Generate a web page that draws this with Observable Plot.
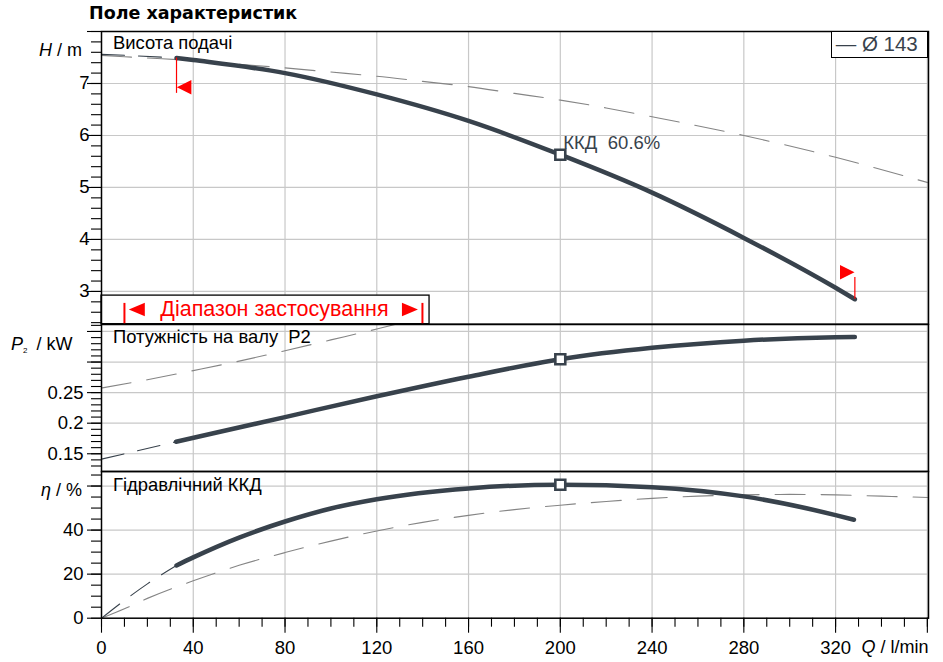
<!DOCTYPE html>
<html><head><meta charset="utf-8">
<script src="https://cdn.jsdelivr.net/npm/d3@7"></script>
<script src="https://cdn.jsdelivr.net/npm/@observablehq/plot@0.6"></script>
<style>
html,body{margin:0;padding:0;background:#fff;overflow:hidden;}
#wrap{position:relative;width:943px;height:662px;font-family:"Liberation Sans",Arial,sans-serif;color:#000;}
.abs{position:absolute;white-space:pre;line-height:20px;font-size:18px;}
#wrap svg{position:absolute;left:0;}
</style></head><body><div id="wrap"></div>
<script>
// ---------- data ----------
const qDomain = [0, 360.5];
const xMajorTicks = [0, 40, 80, 120, 160, 200, 240, 280, 320, 360];
const xTickLabels = ["0", "40", "80", "120", "160", "200", "240", "280", "320", ""];

// Head H / m
const hDomain = [2.37, 8.0];
const hMajorTicks = [3, 4, 5, 6, 7, 8];
const hTickLabels = ["3", "4", "5", "6", "7", ""];
const hSolidQ = [32.7, 40, 80, 120, 160, 200, 240, 280, 320, 328.4];
const hSolidV = [7.49, 7.45, 7.20, 6.79, 6.28, 5.63, 4.90, 4.03, 3.07, 2.85];
const hExtQ = [0, 16, 32.7];
const hExtV = [7.56, 7.53, 7.49];
const hAltQ = [0, 20, 40, 60, 80, 100, 120, 140, 160, 180, 200, 220, 240, 280, 320, 360.5];
const hAltV = [7.54, 7.49, 7.44, 7.37, 7.30, 7.22, 7.14, 7.04, 6.94, 6.81, 6.68, 6.53, 6.36, 6.00, 5.58, 5.09];

// Shaft power P2 / kW
const pDomain = [0.121, 0.3614];
const pMajorTicks = [0.15, 0.2, 0.25, 0.3, 0.35];
const pTickLabels = ["0.15", "0.2", "0.25", "", ""];
const pSolidQ = [32.5, 80, 120, 160, 200, 240, 280, 320, 328.4];
const pSolidV = [0.1696, 0.2100, 0.2440, 0.2760, 0.3046, 0.3232, 0.3350, 0.3405, 0.3410];
const pExtQ = [0, 32.5];
const pExtV = [0.1412, 0.1696];
const pAltQ = [0, 20, 40, 60, 80, 100, 120, 140];
const pAltV = [0.2575, 0.2710, 0.2860, 0.3015, 0.3185, 0.3362, 0.3540, 0.3730];

// Hydraulic efficiency η / %
const eDomain = [0, 66.6];
const eMajorTicks = [0, 20, 40, 60];
const eTickLabels = ["0", "20", "40", ""];
const eSolidQ = [32.7, 40, 60, 80, 100, 120, 160, 200, 240, 280, 320, 328];
const eSolidV = [23.95, 27.6, 36.6, 43.9, 49.8, 54.0, 58.9, 60.6, 59.5, 55.3, 46.8, 44.7];
const eExtQ = [0, 10, 20, 32.7];
const eExtV = [0, 8.1, 15.6, 23.95];
const eAltQ = [0, 10, 20, 40, 60, 80, 100, 120, 140, 160, 180, 200, 220, 240, 260, 280, 300, 320, 340, 360.5];
const eAltV = [0, 4.3, 9.0, 17.0, 24.0, 29.8, 35.0, 39.6, 43.5, 46.7, 49.3, 51.3, 53.0, 54.4, 55.4, 56.0, 56.2, 56.0, 55.4, 54.8];

// duty point & application range
const bepQ = 200;
const bepLabel = "ККД";
const bepEta = 60.6;
const rangeQ = [32.7, 328.4];
const rangeTopH = [7.49, 3.27];
const rangeBotH = [6.81, 2.85];
const rangeArrowH = [6.93, 3.37];
const rangeBoxQ = [0, 143];
const rangeBoxH = [2.37, 2.92];
const rangeBarQ = [10.0, 139.9];
const rangeBarH = [2.77, 2.37];
const rangeText = "Діапазон застосування";
const rangeTextPos = [75.4, 2.66];
const rangeArrowQ = [16.56, 133.3];
const rangeArrowTextH = 2.654;
const legendText = "— Ø 143";

// ---------- drawing ----------
const W = 943, ML = 101, MR = 15;
const FONT = "'Liberation Sans', Arial, sans-serif";
const INK = "#38424c", GRID = "#c8c8c8", DASH = "#858585", RED = "#ff0000";
const pts = (qs, vs) => qs.map((q, i) => ({q, v: vs[i]}));
const fmt = (ticks, labels) => (d) => labels[ticks.indexOf(d)] ?? "";
const styleBase = {background: "transparent", overflow: "visible", fontFamily: FONT, fontSize: "18.5px", color: "#000"};
// pointed triangle symbol (dir -1 = left, +1 = right); size 100 gives L x Hh pixels
const tri = (dir, L, Hh) => ({draw(ctx, size) {
  const k = Math.sqrt(size / 100);
  ctx.moveTo(dir * 2 * L / 3 * k, 0);
  ctx.lineTo(-dir * L / 3 * k, -Hh / 2 * k);
  ctx.lineTo(-dir * L / 3 * k, Hh / 2 * k);
  ctx.closePath();
}});
const R100 = Math.sqrt(100 / Math.PI);

function curves(solid, ext, alt) {
  return [
    Plot.line(alt, {x: "q", y: "v", stroke: DASH, strokeWidth: 1.1, strokeDasharray: "30,16", curve: "monotone-x", clip: true}),
    Plot.line(ext, {x: "q", y: "v", stroke: INK, strokeWidth: 1.1, strokeDasharray: "23,14", curve: "monotone-x", clip: true}),
    Plot.line(solid, {x: "q", y: "v", stroke: INK, strokeWidth: 4.5, strokeLinecap: "round", curve: "monotone-x"}),
  ];
}
function bep(solidQ, solidV) {
  const v = solidV[solidQ.indexOf(bepQ)];
  return Plot.dot([{q: bepQ, v}], {x: "q", y: "v", symbol: "square", r: 5.6, fill: "#fff", stroke: INK, strokeWidth: 2.6});
}
function yAxes(major, labels, minor, pad) {
  return [
    Plot.axisY(minor, {tickSize: 10, tickFormat: () => "", label: null, strokeWidth: 1.1}),
    Plot.axisY(major, {tickSize: 14, tickPadding: pad, tickFormat: fmt(major, labels), label: null, strokeWidth: 1.1, fontSize: 18.5}),
  ];
}
const grids = (yTicks) => [
  Plot.gridX(xMajorTicks.slice(1), {stroke: GRID, strokeOpacity: 1, strokeWidth: 1.2}),
  Plot.gridY(yTicks, {stroke: GRID, strokeOpacity: 1, strokeWidth: 1.2}),
];
const panelLabel = (t, dy) => Plot.text([t], {frameAnchor: "top-left", dx: 11.5, dy, lineAnchor: "middle", textAnchor: "start", fontSize: 18.4, fill: "#000"});

const hSolid = pts(hSolidQ, hSolidV), pSolid = pts(pSolidQ, pSolidV), eSolid = pts(eSolidQ, eSolidV);
const hBep = hSolidV[hSolidQ.indexOf(bepQ)];

const plotH = Plot.plot({
  width: W, height: 324, marginLeft: ML, marginRight: MR, marginTop: 31, marginBottom: 0.3,
  x: {domain: qDomain, axis: null},
  y: {domain: hDomain, label: null},
  style: styleBase,
  marks: [
    ...grids(hMajorTicks.slice(0, 5)),
    Plot.rect([{x1: rangeBoxQ[0], x2: rangeBoxQ[1], y1: rangeBoxH[0], y2: rangeBoxH[1]}], {x1: "x1", x2: "x2", y1: "y1", y2: "y2", fill: "#fff", stroke: "#000", strokeWidth: 1.3}),
    Plot.ruleX(rangeBarQ, {y1: rangeBarH[0], y2: rangeBarH[1], stroke: RED, strokeWidth: 2}),
    Plot.text([rangeText], {x: rangeTextPos[0], y: rangeTextPos[1], fill: RED, fontSize: 21.5, textAnchor: "middle", style: "letter-spacing:1.35px"}),
    Plot.dot([rangeArrowQ[0]], {x: (d) => d, y: rangeArrowTextH, symbol: tri(-1, 16, 13.5), r: R100, fill: RED, stroke: "none"}),
    Plot.dot([rangeArrowQ[1]], {x: (d) => d, y: rangeArrowTextH, symbol: tri(1, 16, 13.5), r: R100, fill: RED, stroke: "none"}),
    ...curves(hSolid, pts(hExtQ, hExtV), pts(hAltQ, hAltV)),
    Plot.ruleX([0, 1], {x: (d) => rangeQ[d], y1: (d) => rangeTopH[d], y2: (d) => rangeBotH[d], stroke: RED, strokeWidth: 1.2}),
    Plot.dot([0], {x: (d) => rangeQ[d], y: (d) => rangeArrowH[d], symbol: tri(-1, 14.5, 14.5), r: R100, fill: RED, stroke: "none", dx: 10}),
    Plot.dot([1], {x: (d) => rangeQ[d], y: (d) => rangeArrowH[d], symbol: tri(1, 14.5, 14.5), r: R100, fill: RED, stroke: "none", dx: -10}),
    bep(hSolidQ, hSolidV),
    Plot.text([bepLabel], {x: bepQ, y: hBep, dx: 3, dy: -11.5, textAnchor: "start", fontSize: 18.5, fill: INK}),
    Plot.text([`${bepEta}%`], {x: bepQ, y: hBep, dx: 47.5, dy: -11.5, textAnchor: "start", fontSize: 18.5, fill: INK}),
    panelLabel("Висота подачі", 11.4),
    Plot.frame({stroke: "#000", strokeWidth: 1.5}),
    ...yAxes(hMajorTicks, hTickLabels, d3.range(12, 41).map((i) => i / 5), -2),
  ]
});

const plotP = Plot.plot({
  width: W, height: 147, marginLeft: ML, marginRight: MR, marginTop: 0, marginBottom: 0,
  x: {domain: qDomain, axis: null},
  y: {domain: pDomain, label: null},
  style: styleBase,
  marks: [
    ...grids(pMajorTicks),
    ...curves(pSolid, pts(pExtQ, pExtV), pts(pAltQ, pAltV)),
    bep(pSolidQ, pSolidV),
    panelLabel("Потужність на валу  P2", 12.4),
    Plot.frame({stroke: "#000", strokeWidth: 1.5}),
    ...yAxes(pMajorTicks, pTickLabels, d3.range(13, 37).map((i) => i / 100), 4),
  ]
});

const plotE = Plot.plot({
  width: W, height: 191, marginLeft: ML, marginRight: MR, marginTop: 0, marginBottom: 44.3,
  x: {domain: qDomain},
  y: {domain: eDomain, label: null},
  style: styleBase,
  marks: [
    ...grids(eMajorTicks.slice(1)),
    ...curves(eSolid, pts(eExtQ, eExtV), pts(eAltQ, eAltV)),
    bep(eSolidQ, eSolidV),
    panelLabel("Гідравлічний ККД", 13.4),
    Plot.frame({stroke: "#000", strokeWidth: 1.5}),
    ...yAxes(eMajorTicks, eTickLabels, d3.range(0, 14).map((i) => i * 5), 4),
    Plot.axisX(d3.range(0, 37).map((i) => i * 10), {tickSize: 9, tickFormat: () => "", label: null, strokeWidth: 1.1}),
    Plot.axisX(xMajorTicks, {tickSize: 15, tickPadding: 8, tickFormat: fmt(xMajorTicks, xTickLabels), label: null, strokeWidth: 1.1, fontSize: 18.5}),
  ]
});

const wrap = document.getElementById("wrap");
plotH.style.top = "0px"; plotP.style.top = "324px"; plotE.style.top = "471px";
wrap.append(plotH, plotP, plotE);

function addText(html, css) {
  const d = document.createElement("div");
  d.className = "abs";
  d.innerHTML = html;
  Object.assign(d.style, css);
  wrap.append(d);
  return d;
}
addText("Поле характеристик", {left: "89px", top: "3px", fontFamily: "'DejaVu Sans', sans-serif", fontWeight: "bold", fontSize: "17.5px"});
addText("<i>H</i> / m", {right: "861px", top: "39.8px"});
addText("<i>P</i><span style=\"font-size:8px;vertical-align:-3px;margin-right:4px\">2</span> / kW", {left: "11px", top: "333.8px"});
addText("<i>η</i> / %", {right: "861px", top: "480.3px"});
addText("<i>Q</i> / l/min", {right: "14.5px", top: "637px"});
addText(legendText, {left: "830.7px", top: "30.7px", width: "91.6px", height: "25.6px", lineHeight: "24px", border: "1px solid #000", background: "#fff", paddingLeft: "4px", fontSize: "20.5px", color: INK});
</script>
</body></html>
